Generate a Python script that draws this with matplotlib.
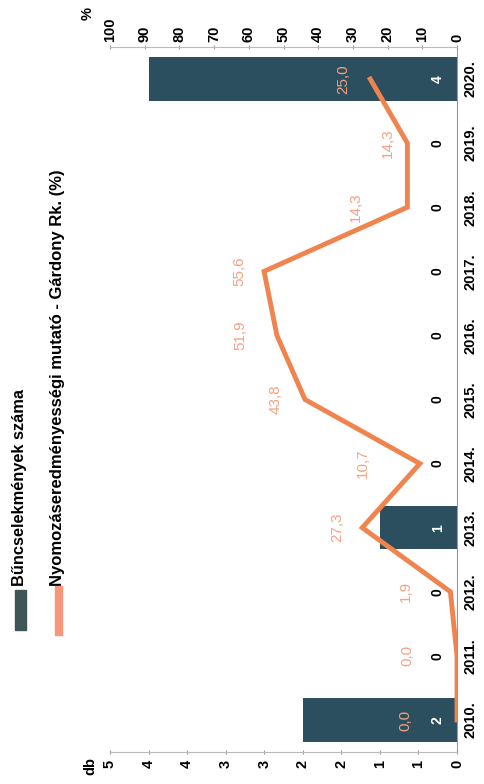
import matplotlib.pyplot as plt
from matplotlib.patches import Rectangle
from matplotlib.lines import Line2D
import numpy as np

plt.rcParams['font.family'] = ['Liberation Sans Narrow', 'Liberation Sans', 'DejaVu Sans']
plt.rcParams['font.weight'] = 'bold'

years = ['2010.', '2011.', '2012.', '2013.', '2014.', '2015.', '2016.', '2017.', '2018.', '2019.', '2020.']
crimes = [2, 0, 0, 1, 0, 0, 0, 0, 0, 0, 4]                                       # db
rate = [0.0, 0.0, 1.9, 27.3, 10.7, 43.8, 51.9, 55.6, 14.3, 14.3, 25.0]          # %
rate_off = [52, 50, 45, 25, 57, 29, 37, 25, 52, 20, 27]  # label distance from the line, px

bar_col = '#2b4f5e'
line_col = '#f0844f'
lab_col = '#f6a182'

fig = plt.figure(figsize=(4.84, 7.84), dpi=100)
ax = fig.add_axes([110/484, 1-752/784, 347/484, 705/784])
pos = np.arange(len(years))

# bars (db) - chart is drawn turned by 90 degrees
ax.barh(pos, crimes, height=0.68, color=bar_col, zorder=2)
ax.set_xlim(4.5, 0)
ax.set_ylim(-0.5, 10.5)
dbt = np.arange(0, 4.51, 0.5)
ax.set_xticks(dbt)
ax.set_xticklabels([str(int(t+0.5)) for t in dbt], rotation=90, fontsize=10.5)
ax.set_yticks(pos)
ax.set_yticklabels(years, rotation=90, va='center', fontsize=10.5)
ax.yaxis.tick_right()
ax.tick_params(axis='y', length=0, pad=5)
ax.tick_params(axis='x', length=3, direction='inout', color='#999999', pad=4)
for s in ['top', 'left']:
    ax.spines[s].set_visible(False)
ax.spines['bottom'].set_color('#bbbbbb')
ax.spines['right'].set_color('#999999')

for i, v in enumerate(crimes):
    ax.text(0.25, i, str(v), rotation=90, ha='center', va='center', fontsize=10,
            color='white' if v > 0 else 'black', zorder=5)

# line (%)
ax2 = ax.twiny()
ax2.plot(rate, pos, color=line_col, lw=3.5, solid_joinstyle='miter', zorder=4)
ax2.set_xlim(100, 0)
ax2.set_xticks(np.arange(0, 101, 10))
ax2.tick_params(axis='x', labelrotation=90, labelsize=10.5, length=3, direction='inout',
                color='#999999', pad=2)
for s in ['bottom', 'left', 'right']:
    ax2.spines[s].set_visible(False)
ax2.spines['top'].set_color('#bbbbbb')

for i, v in enumerate(rate):
    ax2.annotate(f'{v:.1f}'.replace('.', ','), (v, i), xytext=(-rate_off[i], 0),
                 textcoords='offset pixels', rotation=90, ha='center', va='center',
                 color=lab_col, fontsize=11, fontweight='normal',
                 family=['Liberation Sans', 'DejaVu Sans'])

fig.text(90/484, 1-766/784, 'db', rotation=90, ha='center', va='center', fontsize=10.5)
fig.text(88/484, 1-14/784, '%', rotation=90, ha='center', va='center', fontsize=10.5)

# legend, turned as well
fig.patches.append(Rectangle((15/484, 1-630/784), 11/484, 40/784, color='#3f5656',
                             transform=fig.transFigure, figure=fig))
fig.text(20/484, 1-586/784, 'Bűncselekmények száma', rotation=90, ha='center',
         va='bottom', fontsize=11.8)
fig.lines.append(Line2D([59/484, 59/484], [1-632/784, 1-590/784], lw=6,
                        color='#f7967a', transform=fig.transFigure, figure=fig))
fig.text(58/484, 1-586/784, 'Nyomozáseredményességi mutató - Gárdony Rk. (%)',
         rotation=90, ha='center', va='bottom', fontsize=12)

fig.savefig('out.png', dpi=100)
